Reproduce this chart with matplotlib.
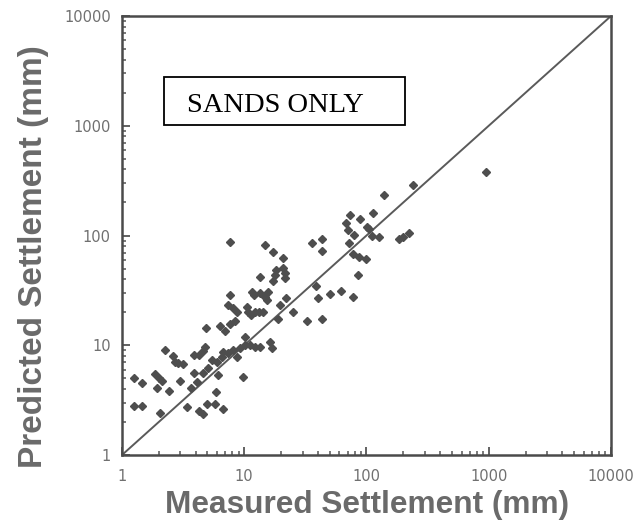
import matplotlib
matplotlib.use('Agg')
import matplotlib.pyplot as plt
from matplotlib.patches import Rectangle
from matplotlib.ticker import LogLocator, NullFormatter, FixedLocator

# measured / predicted settlement (mm)
measured = [1.25, 1.46, 1.25, 1.46, 1.86, 2.01, 2.12, 1.93, 2.05, 2.25,
            2.42, 2.61, 2.71, 2.87, 2.98, 3.16, 3.40, 3.67, 3.88, 4.11,
            3.88, 4.27, 4.60, 4.77, 4.27, 4.60, 4.96, 5.87, 5.77, 6.70,
            6.10, 4.86, 5.45, 5.98, 6.58, 5.05, 4.60, 6.70, 7.36, 8.09,
            8.72, 9.77, 9.23, 10.1, 11.1, 12.2, 13.4, 10.1, 6.33, 6.96,
            7.65, 8.40, 7.65, 7.65, 7.36, 8.09, 8.72, 10.5, 10.7, 11.4,
            12.2, 13.2, 14.2, 11.6, 12.0, 13.4, 14.8, 15.6, 15.3, 13.4,
            14.8, 17.2, 20.7, 20.7, 18.2, 17.8, 17.2, 21.5, 21.5, 16.2,
            16.9, 18.9, 19.6, 22.0, 25.0, 32.6, 43.3, 35.8, 43.3, 43.3,
            38.6, 40.1, 50.3, 61.9, 77.6, 85.2, 73.3, 68.0, 70.6, 79.0,
            71.9, 88.5, 113, 101, 105, 111, 127, 77.6, 86.8, 99.1,
            139, 240, 184, 199, 223, 950]
predicted = [5.03, 4.53, 2.80, 2.80, 5.47, 5.03, 4.72, 4.08, 2.41, 9.05,
             3.83, 7.98, 7.04, 6.89, 4.72, 6.75, 2.74, 4.08, 5.59, 4.63,
             8.15, 8.15, 8.87, 9.64, 2.52, 2.36, 2.92, 3.75, 2.92, 2.63,
             5.36, 14.4, 7.34, 7.04, 7.82, 6.21, 5.59, 8.68, 8.50, 9.05,
             7.82, 5.14, 9.44, 10.0, 10.0, 9.64, 9.64, 11.9, 15.0, 13.5,
             15.6, 16.6, 87.3, 28.7, 23.3, 21.8, 20.1, 22.3, 20.1, 18.9,
             20.1, 20.1, 20.1, 30.6, 28.7, 29.9, 27.5, 30.6, 25.8, 41.9,
             81.9, 70.8, 62.4, 50.6, 48.5, 43.6, 38.5, 45.5, 41.0, 10.7,
             9.44, 17.4, 23.3, 27.0, 20.1, 16.6, 17.4, 85.4, 92.9, 72.2,
             34.7, 27.0, 29.3, 31.2, 27.5, 43.6, 154, 130, 112, 101,
             85.4, 141, 160, 119, 115, 98.9, 96.9, 67.8, 63.7, 61.1,
             234, 288, 92.9, 96.9, 105, 379]
axis_ticks = [1, 10, 100, 1000, 10000]
tick_labels = ['1', '10', '100', '1000', '10000']
line_ends = [1, 10000]

fig = plt.figure(figsize=(6.43, 5.22), dpi=100)
ax = fig.add_axes([122 / 643, 1 - 455 / 522, 489 / 643, 439 / 522])

ax.plot(line_ends, line_ends, color='#5a5a5a', lw=1.4, zorder=2)
ax.plot(measured, predicted, ls='none', marker='D', ms=4.3,
        color='#4e4e4e', mec='#4e4e4e', zorder=3)

ax.set_xscale('log')
ax.set_yscale('log')
ax.set_xlim(1, 10000)
ax.set_ylim(1, 10000)

for a in (ax.xaxis, ax.yaxis):
    a.set_major_locator(FixedLocator(axis_ticks))
    a.set_minor_locator(LogLocator(base=10, subs=range(2, 10)))
    a.set_minor_formatter(NullFormatter())
ax.set_xticklabels(tick_labels)
ax.set_yticklabels(tick_labels)

ax.tick_params(which='both', direction='in', colors='#555555',
               labelcolor='#707070', labelsize=10.5, top=False, right=False)
ax.tick_params(which='major', length=6, width=1.3)
ax.tick_params(which='minor', length=3, width=1.1)
ax.tick_params(axis='x', pad=10)
ax.tick_params(axis='y', pad=8)

for s in ax.spines.values():
    s.set_color('#4a4a4a')
    s.set_linewidth(1.8)

# axis titles placed where they sit in the original
fig.text(367.5 / 643, 1 - 513 / 522, 'Measured Settlement (mm)',
         fontsize=22.8, color='#6a6a6a', fontweight='bold',
         family='Liberation Sans', ha='center', va='baseline')
fig.text(42 / 643, 1 - 257 / 522, 'Predicted Settlement (mm)',
         fontsize=24, color='#6a6a6a', fontweight='bold',
         family='Liberation Sans', rotation=90, rotation_mode='anchor',
         ha='center', va='baseline')

# label box
ax.add_patch(Rectangle((42 / 489, 330 / 439), 241 / 489, 48 / 439,
                       transform=ax.transAxes, fc='white', ec='black',
                       lw=1.3, zorder=4))
ax.text(65 / 489, 350 / 439, 'SANDS ONLY', transform=ax.transAxes,
        family='Liberation Serif', fontsize=20.5, color='black',
        va='center', ha='left', zorder=5)

fig.savefig('out.png', dpi=100)
